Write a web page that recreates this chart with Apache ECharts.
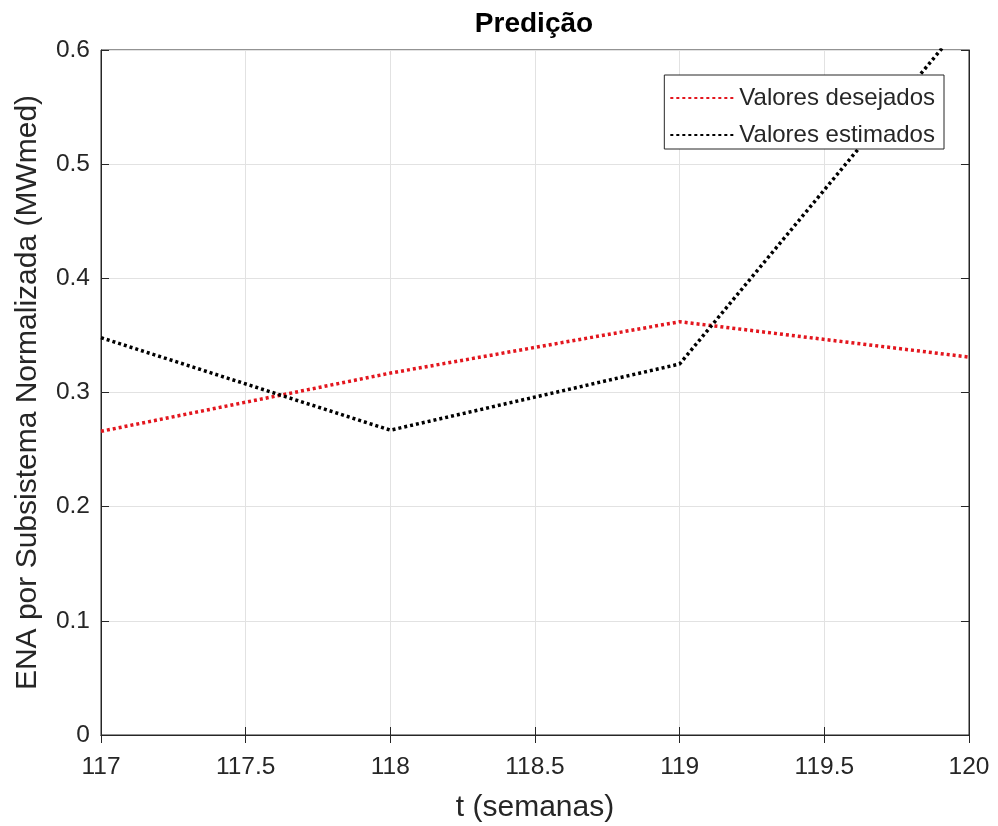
<!DOCTYPE html>
<html>
<head>
<meta charset="utf-8">
<script src="https://cdn.jsdelivr.net/npm/echarts@6/dist/echarts.min.js"></script>
<style>html,body{margin:0;padding:0;background:#fff}#c{width:998px;height:826px}</style>
</head>
<body>
<div id="c"></div>
<script>
const tWeeks = [117, 118, 119, 120];
const desejados = [0.266, 0.317, 0.362, 0.331];
const estimados = [0.348, 0.267, 0.325, 0.630];
const xTicks = [117, 117.5, 118, 118.5, 119, 119.5, 120];
const yTicks = [0, 0.1, 0.2, 0.3, 0.4, 0.5, 0.6];

const txt = '#262626';
const font = 'Liberation Sans, Arial, Helvetica, sans-serif';
const chart = echarts.init(document.getElementById('c'));
const pair = (xs, ys) => xs.map((x, i) => [x, ys[i]]);

chart.setOption({
  animation: false,
  textStyle: { fontFamily: font },
  grid: { left: 101, right: 29, top: 50, bottom: 91, show: true, borderColor: txt, borderWidth: 1, backgroundColor: '#fff', containLabel: false, outerBoundsMode: 'none' },
  graphic: [{
    type: 'text', x: 534, y: 24,
    style: { text: 'Predição', font: 'bold 28px ' + font, fill: '#000', textAlign: 'center', textVerticalAlign: 'middle' }
  }],
  legend: {
    orient: 'vertical', right: 54, top: 75,
    backgroundColor: '#fff', borderColor: txt, borderWidth: 1,
    padding: [11, 9, 2, 5], itemGap: 13,
    itemWidth: 64, itemHeight: 24,
    itemStyle: { opacity: 0 },
    textStyle: { color: txt, fontSize: 24, fontFamily: font },
    data: ['Valores desejados', 'Valores estimados']
  },
  xAxis: [{
    type: 'value', min: 117, max: 120, interval: 0.5,
    name: 't (semanas)', nameLocation: 'middle', nameGap: 58,
    nameTextStyle: { color: txt, fontSize: 30, fontFamily: font },
    axisLine: { show: true, lineStyle: { color: txt } },
    axisTick: { show: true, inside: true, length: 8, lineStyle: { color: txt } },
    axisLabel: { color: txt, fontSize: 24.5, margin: 20, fontFamily: font },
    splitLine: { show: true, lineStyle: { color: '#e2e2e2' } }
  }, {
    type: 'value', min: 117, max: 120, interval: 0.5, position: 'top',
    axisLine: { show: true, lineStyle: { color: txt } },
    axisTick: { show: true, inside: true, length: 8, lineStyle: { color: txt } },
    axisLabel: { show: false }, splitLine: { show: false }
  }],
  yAxis: [{
    type: 'value', min: 0, max: 0.6, interval: 0.1,
    name: 'ENA por Subsistema Normalizada (MWmed)', nameLocation: 'middle', nameGap: 58,
    nameTextStyle: { color: txt, fontSize: 30, fontFamily: font },
    axisLine: { show: true, lineStyle: { color: txt } },
    axisTick: { show: true, inside: true, length: 8, lineStyle: { color: txt } },
    axisLabel: { color: txt, fontSize: 24.5, margin: 11, padding: [7, 0, 0, 0], fontFamily: font, formatter: v => String(Math.round(v * 10) / 10) },
    splitLine: { show: true, lineStyle: { color: '#e2e2e2' } }
  }, {
    type: 'value', min: 0, max: 0.6, interval: 0.1, position: 'right',
    axisLine: { show: true, lineStyle: { color: txt } },
    axisTick: { show: true, inside: true, length: 8, lineStyle: { color: txt } },
    axisLabel: { show: false }, splitLine: { show: false }
  }],
  series: [{
    name: 'Valores desejados', type: 'line', symbol: 'none', clip: true,
    data: pair(tWeeks, desejados),
    itemStyle: { color: '#e3161e' },
    lineStyle: { color: '#e3161e', width: 3.5, type: [3, 3] }
  }, {
    name: 'Valores estimados', type: 'line', symbol: 'none', clip: true,
    data: pair(tWeeks, estimados),
    itemStyle: { color: '#000' },
    lineStyle: { color: '#000', width: 3.5, type: [3, 3] }
  }]
});
</script>
</body>
</html>
